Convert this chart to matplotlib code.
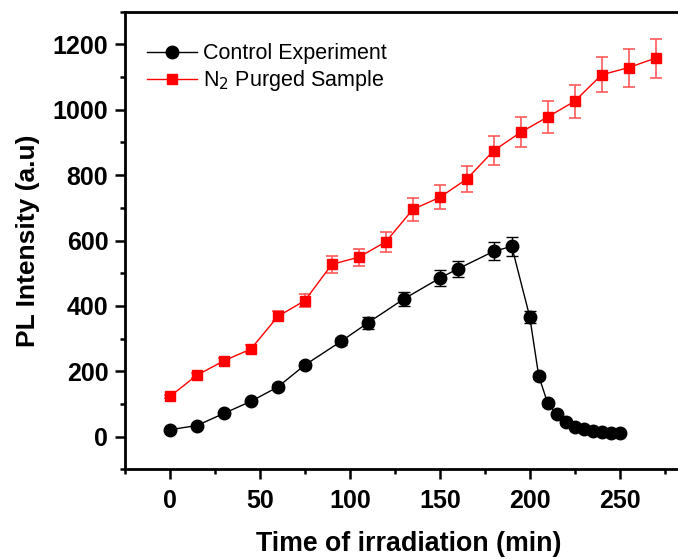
import numpy as np
import matplotlib
matplotlib.use('Agg')
import matplotlib.pyplot as plt
from matplotlib.ticker import MultipleLocator

plt.rcParams['font.family'] = ['Liberation Sans', 'DejaVu Sans']

# Control experiment (black circles)
t_control = [0, 15, 30, 45, 60, 75, 95, 110, 130, 150, 160, 180, 190,
             200, 205, 210, 215, 220, 225, 230, 235, 240, 245, 250]
pl_control = [21, 34, 71, 108, 152, 219, 291, 348, 421, 485, 513, 567, 582,
              367, 186, 102, 68, 45, 30, 23, 18, 15, 12, 10]
err_control = [4, 4, 5, 6, 8, 10, 12, 19, 21, 24, 25, 28, 28,
               18, 10, 8, 6, 5, 4, 4, 3, 3, 3, 3]

# N2 purged sample (red squares)
t_n2 = [0, 15, 30, 45, 60, 75, 90, 105, 120, 135, 150, 165, 180,
        195, 210, 225, 240, 255, 270]
pl_n2 = [123, 188, 232, 268, 368, 416, 527, 549, 596, 695, 732, 788, 875,
         931, 978, 1026, 1107, 1129, 1158]
err_n2 = [5, 8, 10, 12, 15, 20, 27, 26, 30, 35, 37, 40, 44,
          46, 49, 51, 54, 58, 60]

W, H = 678, 559
fig = plt.figure(figsize=(W / 100, H / 100), dpi=100)
# axes runs past the right edge of the picture (cropped like the original)
ax = fig.add_axes([125 / W, (H - 469.3) / H, 566.6 / W, 457.6 / H])

# error bars first, then lines + markers on top (legend shows no bars)
ax.errorbar(t_control, pl_control, yerr=err_control, fmt='none',
            ecolor='black', elinewidth=1.0, capsize=4.5, capthick=1.0, zorder=3)
ax.errorbar(t_n2, pl_n2, yerr=err_n2, fmt='none', ecolor=(1, 0.35, 0.35),
            elinewidth=1.2, capsize=4.5, capthick=1.2, zorder=2)
ax.plot(t_control, pl_control, '-o', color='black', lw=1.0, ms=9,
        label='Control Experiment', zorder=4)
ax.plot(t_n2, pl_n2, '-s', color='red', lw=1.0, ms=7.5,
        label='N$_2$ Purged Sample', zorder=3)

ax.set_xlim(-25, 290)
ax.set_ylim(-100, 1300)
ax.xaxis.set_major_locator(MultipleLocator(50))
ax.xaxis.set_minor_locator(MultipleLocator(25))
ax.yaxis.set_major_locator(MultipleLocator(200))
ax.yaxis.set_minor_locator(MultipleLocator(100))

for s in ax.spines.values():
    s.set_linewidth(2.0)
ax.tick_params(which='major', direction='out', length=7, width=1.8,
               labelsize=18, pad=5)
ax.tick_params(axis='x', which='major', pad=7)
ax.tick_params(which='minor', direction='out', length=3.8, width=1.8)
for lab in ax.get_xticklabels() + ax.get_yticklabels():
    lab.set_fontweight('bold')

ax.set_xlabel('Time of irradiation (min)', fontsize=19.3, fontweight='bold',
              labelpad=13)
ax.set_ylabel('PL Intensity (a.u)', fontsize=19, fontweight='bold',
              labelpad=9)

ax.legend(loc='upper left', bbox_to_anchor=(0.024, 0.95), frameon=False,
          fontsize=15.5, handlelength=2.3, handletextpad=0.3,
          labelspacing=0.18, borderaxespad=0)

fig.savefig('out.png', dpi=100)
